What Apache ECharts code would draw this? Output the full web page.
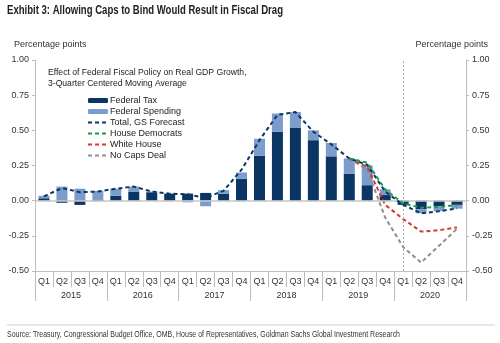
<!DOCTYPE html>
<html>
<head>
<meta charset="utf-8">
<script src="https://cdn.jsdelivr.net/npm/echarts@6/dist/echarts.min.js"></script>
<style>
  html, body { margin: 0; padding: 0; background: #fff; }
  #chart { width: 500px; height: 343px; }
</style>
</head>
<body>
<div id="chart"></div>
<script>
// Quarters 2015 Q1 .. 2020 Q4
const quarters = ['Q1','Q2','Q3','Q4','Q1','Q2','Q3','Q4','Q1','Q2','Q3','Q4',
                  'Q1','Q2','Q3','Q4','Q1','Q2','Q3','Q4','Q1','Q2','Q3','Q4'];
const years = ['2015', '2016', '2017', '2018', '2019', '2020'];

// Contribution to real GDP growth, percentage points (3-quarter centered MA)
const federalTax = [0.017, -0.015, -0.03, 0.005, 0.035, 0.065, 0.06, 0.05, 0.05, 0.055, 0.05, 0.155,
                    0.32, 0.49, 0.52, 0.43, 0.315, 0.19, 0.11, 0.04, -0.03, -0.06, -0.04, -0.03];
const federalSpending = [0.018, 0.10, 0.085, 0.065, 0.05, 0.035, 0.005, 0.0, -0.012, -0.04, 0.025, 0.045,
                         0.12, 0.13, 0.11, 0.07, 0.095, 0.11, 0.14, 0.04, 0.0, -0.03, -0.035, -0.027];
const totalGsForecast = [0.03, 0.09, 0.06, 0.065, 0.085, 0.10, 0.065, 0.05, 0.045, 0.02, 0.07, 0.22,
                         0.43, 0.61, 0.63, 0.49, 0.40, 0.30, 0.255, 0.065, -0.03, -0.09, -0.075, -0.055];
const houseDemocrats = ['-','-','-','-','-','-','-','-','-','-','-','-',
                        '-','-','-','-','-', 0.30, 0.27, 0.08, -0.02, -0.05, -0.045, -0.03];
const whiteHouse = ['-','-','-','-','-','-','-','-','-','-','-','-',
                    '-','-','-','-','-', 0.30, 0.24, -0.03, -0.13, -0.22, -0.21, -0.19];
const noCapsDeal = ['-','-','-','-','-','-','-','-','-','-','-','-',
                    '-','-','-','-','-', 0.30, 0.22, -0.12, -0.33, -0.44, -0.32, -0.20];

const titleText = 'Exhibit 3: Allowing Caps to Bind Would Result in Fiscal Drag';
const sourceText = 'Source: Treasury, Congressional Budget Office, OMB, House of Representatives, Goldman Sachs Global Investment Research';

const NAVY = '#0b3563';
const LIGHT = '#7c9dcc';
const GREEN = '#1e9a4c';
const RED = '#d33a32';
const GREY = '#8e8e8e';
const AXIS_GREY = '#bdbdbd';
const TEXT = '#333';
const FONT = '"Liberation Sans", Arial, sans-serif';

// Condensed look for the heading and source line: squeeze a regular face horizontally
function squeeze(text, font, width) {
  const ctx = document.createElement('canvas').getContext('2d');
  ctx.font = font;
  return width / ctx.measureText(text).width;
}
const titleFont = 'bold 12px ' + FONT;
const sourceFont = '8.6px ' + FONT;
const titleScale = squeeze(titleText, titleFont, 276);
const sourceScale = squeeze(sourceText, sourceFont, 393);

const chart = echarts.init(document.getElementById('chart'), null, { renderer: 'canvas' });

function valueAxis(position) {
  return {
    type: 'value',
    position: position,
    min: -0.5,
    max: 1.0,
    interval: 0.25,
    axisLine: { show: true, lineStyle: { color: AXIS_GREY, width: 1 } },
    axisTick: { show: true, length: 3, lineStyle: { color: AXIS_GREY } },
    axisLabel: { fontSize: 9, color: TEXT, fontFamily: FONT, margin: 6,
                 formatter: v => v.toFixed(2) },
    splitLine: { show: false }
  };
}

function dashedLine(name, data, color, z) {
  return {
    name: name,
    type: 'line',
    data: data,
    symbol: 'none',
    z: z,
    lineStyle: { color: color, width: 2, type: [4, 3] },
    itemStyle: { color: color }
  };
}

const lineLegend = name => ({ name: name, itemStyle: { opacity: 0 } });

const option = {
  animation: false,
  backgroundColor: '#fff',
  grid: { left: 35, right: 34, top: 60, bottom: 72, containLabel: false },
  xAxis: [
    {
      type: 'category',
      data: quarters,
      position: 'bottom',
      axisLine: { show: true, onZero: false, lineStyle: { color: AXIS_GREY } },
      axisTick: { show: true, interval: 0, length: 16, lineStyle: { color: AXIS_GREY } },
      axisLabel: { interval: 0, fontSize: 9, color: TEXT, fontFamily: FONT, margin: 6 }
    },
    {
      type: 'category',
      data: years,
      position: 'bottom',
      axisLine: { show: false, onZero: false },
      axisTick: { show: true, interval: 0, length: 30, lineStyle: { color: AXIS_GREY } },
      axisLabel: { interval: 0, fontSize: 9, color: TEXT, fontFamily: FONT, margin: 20 }
    }
  ],
  yAxis: [valueAxis('left'), valueAxis('right')],
  legend: {
    orient: 'vertical',
    left: 82,
    top: 91,
    itemWidth: 20,
    itemHeight: 5,
    itemGap: 2,
    textStyle: { fontSize: 9, color: '#222', fontFamily: FONT, lineHeight: 9, padding: [0, 0, 0, -3] },
    data: ['Federal Tax', 'Federal Spending',
           lineLegend('Total, GS Forecast'), lineLegend('House Democrats'),
           lineLegend('White House'), lineLegend('No Caps Deal')]
  },
  series: [
    {
      name: 'Federal Tax',
      type: 'bar',
      stack: 'fiscal',
      data: federalTax,
      barWidth: 11,
      itemStyle: { color: NAVY },
      z: 2,
      markLine: {
        silent: true,
        symbol: 'none',
        label: { show: false },
        data: [
          { yAxis: 0, lineStyle: { color: '#c6c6c6', width: 1.5, type: 'solid' } },
          { xAxis: 19.5, lineStyle: { color: '#a9a9a9', width: 1, type: [2, 2] } }
        ]
      }
    },
    {
      name: 'Federal Spending',
      type: 'bar',
      stack: 'fiscal',
      data: federalSpending,
      barWidth: 11,
      itemStyle: { color: LIGHT },
      z: 2
    },
    dashedLine('No Caps Deal', noCapsDeal, GREY, 3),
    dashedLine('White House', whiteHouse, RED, 4),
    dashedLine('Total, GS Forecast', totalGsForecast, NAVY, 5),
    dashedLine('House Democrats', houseDemocrats, GREEN, 6)
  ],
  graphic: [
    { type: 'text', x: 7, y: 5, scaleX: titleScale,
      style: { text: titleText, font: titleFont, fill: '#222' } },
    { type: 'text', left: 14, top: 40,
      style: { text: 'Percentage points', font: '9px ' + FONT, fill: TEXT } },
    { type: 'text', right: 12, top: 40,
      style: { text: 'Percentage points', font: '9px ' + FONT, fill: TEXT } },
    { type: 'text', left: 48, top: 67,
      style: { text: 'Effect of Federal Fiscal Policy on Real GDP Growth,\n3-Quarter Centered Moving Average',
               font: '8.6px ' + FONT, fill: '#222', lineHeight: 11 } },
    { type: 'line', shape: { x1: 7, y1: 325, x2: 495, y2: 325 },
      style: { stroke: '#d0d0d0', lineWidth: 1 } },
    { type: 'text', x: 7, y: 330, scaleX: sourceScale,
      style: { text: sourceText, font: sourceFont, fill: '#333' } }
  ]
};

chart.setOption(option);
</script>
</body>
</html>
